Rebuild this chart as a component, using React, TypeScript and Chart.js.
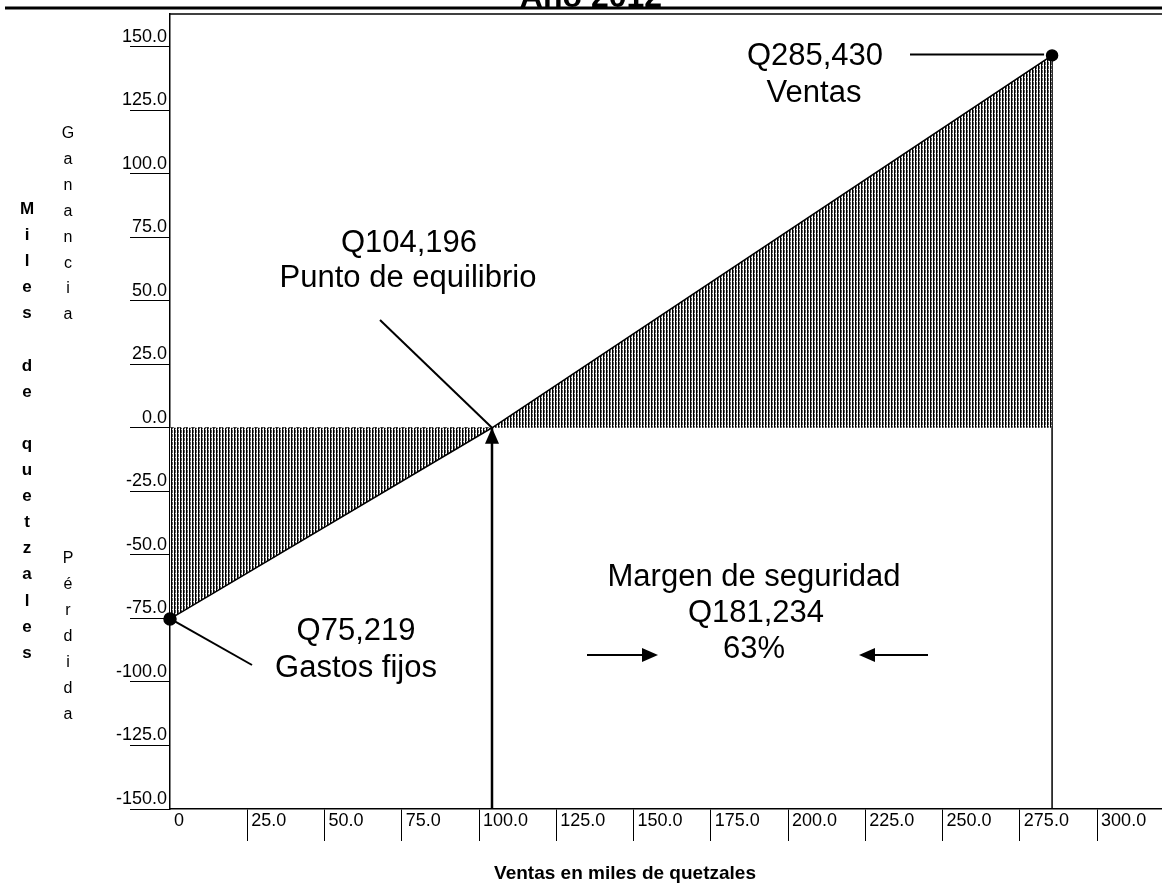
import React, { useEffect, useRef } from 'react';
import { Chart, registerables } from 'chart.js';

Chart.register(...registerables);

// ---- data (miles de quetzales) ----
const xTickValues = [0, 25, 50, 75, 100, 125, 150, 175, 200, 225, 250, 275, 300];
const xTickLabels = ['0', '25.0', '50.0', '75.0', '100.0', '125.0', '150.0', '175.0', '200.0', '225.0', '250.0', '275.0', '300.0'];
const yTickValues = [-150, -125, -100, -75, -50, -25, 0, 25, 50, 75, 100, 125, 150];
const yTickLabels = ['-150.0', '-125.0', '-100.0', '-75.0', '-50.0', '-25.0', '0.0', '25.0', '50.0', '75.0', '100.0', '125.0', '150.0'];

const ventasX = [0, 104.196, 285.43];          // ventas
const resultadoY = [-75.219, 0, 146.5];        // ganancia / pérdida
const puntoRadio = [6, 0, 5.5];
const equilibrioX = 104.196;
const ventasTotalesX = 285.43;
const ventasTotalesY = 146.5;
const gastosFijosY = -75.219;

const xMin = 0;
const xMax = 321;
const yMin = -150;
const yMax = 162.8;

const FONT = '"Liberation Sans", Arial, Helvetica, sans-serif';

const overlay = {
  id: 'overlay',
  afterDraw(chart: any) {
    const ctx: CanvasRenderingContext2D = chart.ctx;
    const xs = chart.scales.x;
    const ys = chart.scales.y;
    const ca = chart.chartArea;
    ctx.save();
    ctx.strokeStyle = '#000';
    ctx.fillStyle = '#000';

    // page rule + plot top border
    ctx.lineWidth = 3;
    ctx.beginPath(); ctx.moveTo(5, 8); ctx.lineTo(chart.width, 8); ctx.stroke();
    ctx.lineWidth = 1.5;
    ctx.beginPath(); ctx.moveTo(ca.left, ca.top); ctx.lineTo(chart.width, ca.top); ctx.stroke();

    // title (cut off at top)
    ctx.textAlign = 'center';
    ctx.textBaseline = 'alphabetic';
    ctx.font = `bold 32px ${FONT}`;
    ctx.fillText('Año 2012', 591, 7);

    // stacked y titles
    const stack = (txt: string, x: number, y0: number, step: number, font: string) => {
      ctx.font = font;
      for (let i = 0; i < txt.length; i++) {
        const ch = txt[i];
        if (ch !== ' ') ctx.fillText(ch, x, y0 + i * step);
      }
    };
    stack('Miles de quetzales', 27, 214, 26.1, `bold 17px ${FONT}`);
    stack('Ganancia', 68, 138, 25.9, `16px ${FONT}`);
    stack('Pérdida', 68, 563, 26, `16px ${FONT}`);

    // x title
    ctx.font = `bold 19px ${FONT}`;
    ctx.fillText('Ventas en miles de quetzales', 625, 879);

    // annotation texts
    ctx.font = `31px ${FONT}`;
    ctx.fillText('Q285,430', 815, 65);
    ctx.fillText('Ventas', 814, 102);
    ctx.fillText('Q104,196', 409, 252);
    ctx.fillText('Punto de equilibrio', 408, 287);
    ctx.fillText('Q75,219', 356, 640);
    ctx.fillText('Gastos fijos', 356, 677);
    ctx.fillText('Margen de seguridad', 754, 586);
    ctx.fillText('Q181,234', 756, 622);
    ctx.fillText('63%', 754, 658);

    // anchors from data
    const bx = xs.getPixelForValue(equilibrioX);
    const by = ys.getPixelForValue(0);
    const fx = xs.getPixelForValue(0);
    const fy = ys.getPixelForValue(gastosFijosY);
    const vx = xs.getPixelForValue(ventasTotalesX);
    const vy = ys.getPixelForValue(ventasTotalesY);

    // leader lines
    ctx.lineWidth = 2;
    ctx.beginPath(); ctx.moveTo(380, 320); ctx.lineTo(bx, by); ctx.stroke();
    ctx.beginPath(); ctx.moveTo(fx + 4, fy + 2); ctx.lineTo(252, 665); ctx.stroke();
    ctx.beginPath(); ctx.moveTo(910, vy - 1); ctx.lineTo(vx - 8, vy - 1); ctx.stroke();

    // break-even arrowhead
    ctx.beginPath();
    ctx.moveTo(bx, by);
    ctx.lineTo(bx - 7, by + 16);
    ctx.lineTo(bx + 7, by + 16);
    ctx.closePath();
    ctx.fill();

    // margin arrows
    ctx.lineWidth = 2;
    ctx.beginPath(); ctx.moveTo(587, 655); ctx.lineTo(645, 655); ctx.stroke();
    ctx.beginPath(); ctx.moveTo(658, 655); ctx.lineTo(642, 648); ctx.lineTo(642, 662); ctx.closePath(); ctx.fill();
    ctx.beginPath(); ctx.moveTo(873, 655); ctx.lineTo(928, 655); ctx.stroke();
    ctx.beginPath(); ctx.moveTo(859, 655); ctx.lineTo(875, 648); ctx.lineTo(875, 662); ctx.closePath(); ctx.fill();

    ctx.restore();
  },
};

export default function App() {
  const ref = useRef<HTMLCanvasElement>(null);

  useEffect(() => {
    document.body.style.margin = '0';
    const canvas = ref.current!;
    const cctx = canvas.getContext('2d')!;

    const pc = document.createElement('canvas');
    pc.width = 3;
    pc.height = 4;
    const p = pc.getContext('2d')!;
    p.fillStyle = '#ffffff';
    p.fillRect(0, 0, 3, 4);
    p.fillStyle = '#000000';
    p.fillRect(0, 0, 1, 4);
    p.fillStyle = '#5a5a5a';
    p.fillRect(1, 0, 1, 4);
    p.fillStyle = '#d8d8d8';
    p.fillRect(1, 1, 1, 1);
    const hatch = cctx.createPattern(pc, 'repeat')!;

    const chart = new Chart(canvas, {
      type: 'line',
      data: {
        datasets: [
          {
            data: ventasX.map((x, i) => ({ x, y: resultadoY[i] })),
            borderColor: '#000',
            borderWidth: 1.5,
            backgroundColor: hatch as any,
            fill: 'origin',
            tension: 0,
            pointRadius: puntoRadio,
            pointBackgroundColor: '#000',
            pointBorderColor: '#000',
            clip: false as any,
          },
          {
            data: [{ x: xMin, y: 0 }, { x: equilibrioX, y: 0 }],
            borderColor: '#000',
            borderWidth: 1,
            borderDash: [4, 3],
            pointRadius: 0,
            fill: false,
          },
          {
            data: [{ x: equilibrioX, y: yMin }, { x: equilibrioX, y: 0 }],
            borderColor: '#000',
            borderWidth: 2.5,
            pointRadius: 0,
            fill: false,
          },
          {
            data: [{ x: ventasTotalesX, y: ventasTotalesY }, { x: ventasTotalesX, y: yMin }],
            borderColor: '#000',
            borderWidth: 1.5,
            pointRadius: 0,
            fill: false,
          },
        ],
      },
      options: {
        responsive: false,
        animation: false,
        layout: { autoPadding: false, padding: { top: 14, left: 0, right: 0, bottom: 0 } },
        plugins: {
          legend: { display: false },
          tooltip: { enabled: false },
          title: { display: false },
        },
        scales: {
          x: {
            type: 'linear',
            min: xMin,
            max: xMax,
            afterBuildTicks: (s: any) => {
              s.ticks = xTickValues.map((v) => ({ value: v }));
            },
            afterFit: (s: any) => {
              s.height = 75;
              s.paddingRight = 0;
              s.paddingLeft = 0;
            },
            grid: {
              drawOnChartArea: false,
              tickLength: 32,
              lineWidth: 1,
              color: (c: any) => (c.tick && c.tick.value === 0 ? 'rgba(0,0,0,0)' : '#000'),
            },
            border: { display: true, color: '#000', width: 1.5 },
            ticks: {
              align: 'start',
              labelOffset: 4,
              padding: -31,
              autoSkip: false,
              maxRotation: 0,
              color: '#000',
              font: { family: FONT, size: 18 },
              callback: (_v: any, i: number) => xTickLabels[i],
            },
          },
          y: {
            type: 'linear',
            min: yMin,
            max: yMax,
            afterBuildTicks: (s: any) => {
              s.ticks = yTickValues.map((v) => ({ value: v }));
            },
            afterFit: (s: any) => {
              s.width = 170;
              s.paddingTop = 0;
              s.paddingBottom = 0;
            },
            grid: {
              drawOnChartArea: false,
              tickLength: 40,
              lineWidth: 1,
              color: '#000',
            },
            border: { display: true, color: '#000', width: 1.5 },
            ticks: {
              padding: -37,
              labelOffset: -10,
              autoSkip: false,
              color: '#000',
              font: { family: FONT, size: 18 },
              callback: (_v: any, i: number) => yTickLabels[i],
            },
          },
        },
      } as any,
      plugins: [overlay],
    });

    return () => chart.destroy();
  }, []);

  return (
    <div style={{ width: 1162, height: 884, background: '#fff' }}>
      <canvas ref={ref} width={1162} height={884} style={{ display: 'block' }} />
    </div>
  );
}
